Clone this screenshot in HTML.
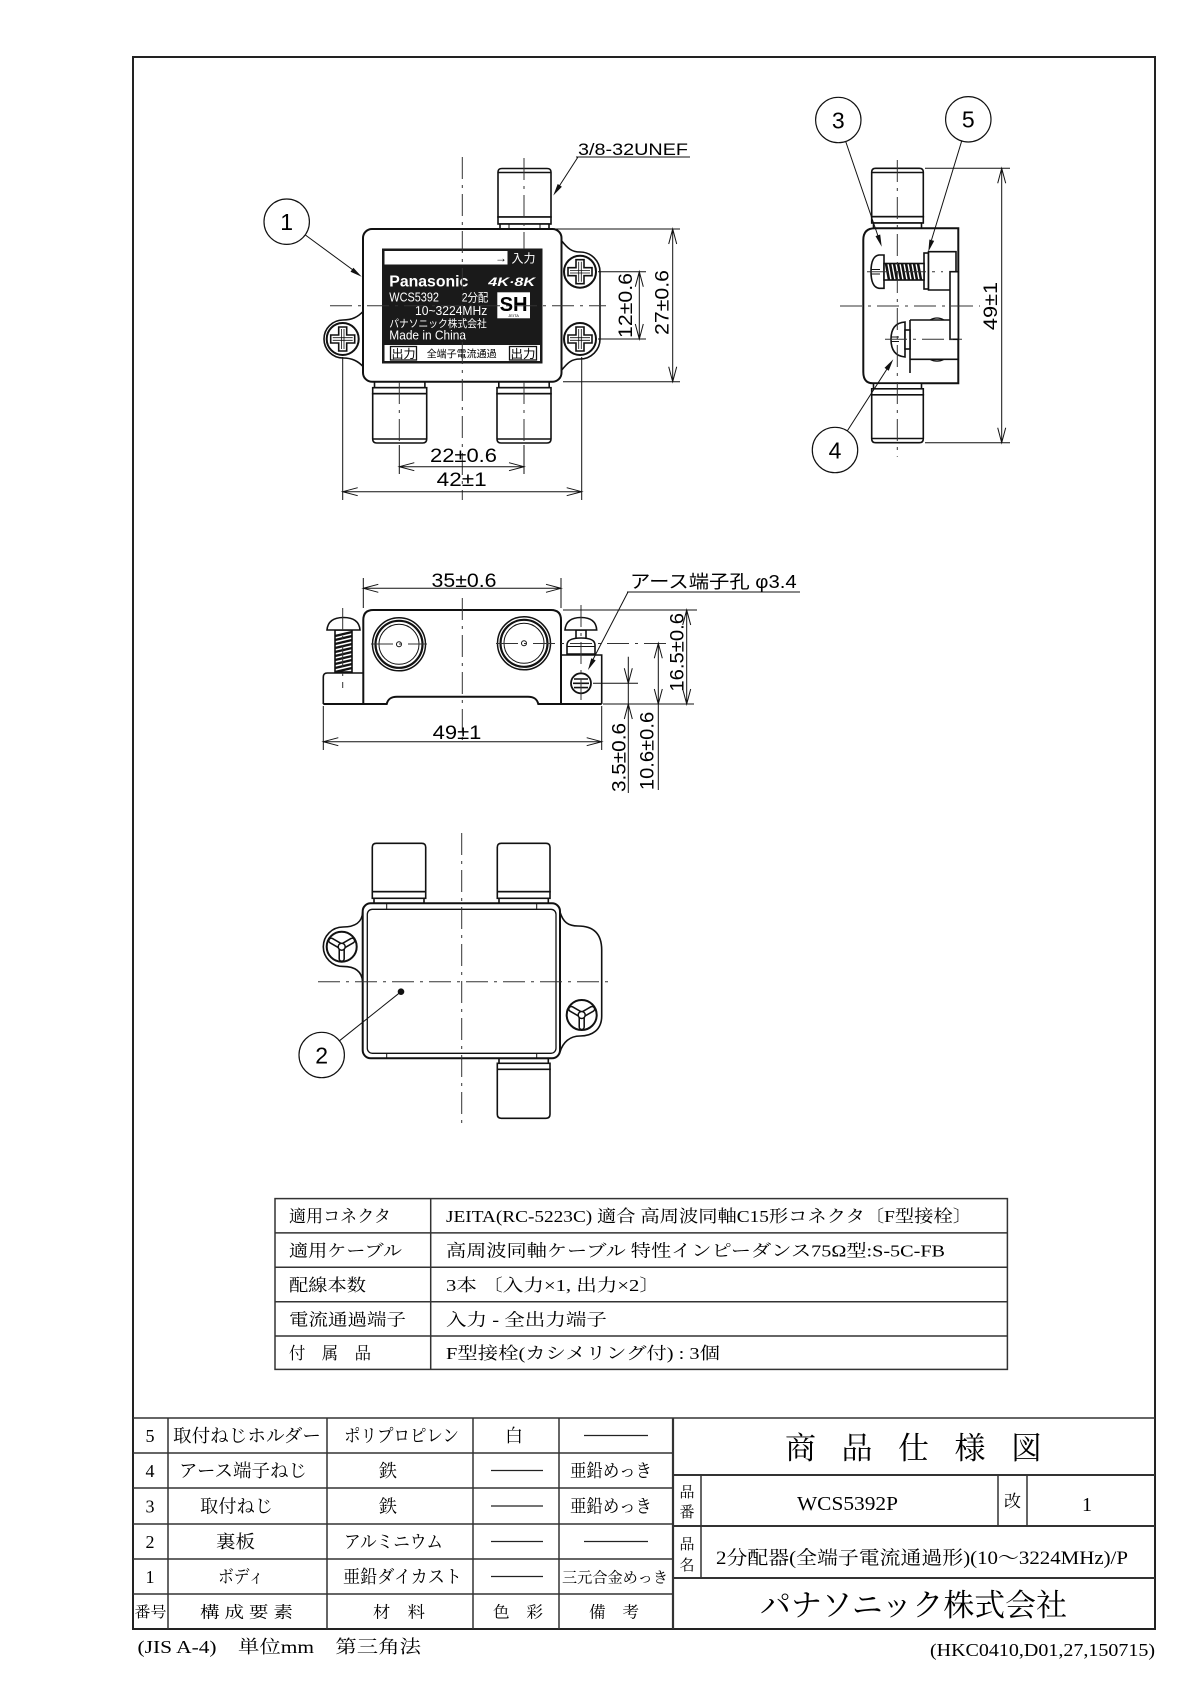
<!DOCTYPE html>
<html><head><meta charset="utf-8"><title>WCS5392P 商品仕様図</title>
<style>
html,body{margin:0;padding:0;background:#fff;}
svg{display:block;}
.s{font-family:"Liberation Sans","Noto Sans CJK JP",sans-serif;}
.m{font-family:"Liberation Serif","Noto Serif CJK SC",serif;}
.c{stroke:#333;stroke-width:1;stroke-dasharray:22 6 3 6;fill:none;}
</style></head><body>
<svg width="1190" height="1683" viewBox="0 0 1190 1683" xmlns="http://www.w3.org/2000/svg">
<defs>
<g id="ph" fill="#fff" stroke="#111">
 <circle r="16" stroke-width="2"/>
 <path d="M-4,-12 H4 V-4 H12 V4 H4 V12 H-4 V4 H-12 V-4 H-4 Z" stroke-width="1.6"/>
 <path d="M-1.3,-10 V10 M1.3,-10 V10 M-10,-1.3 H10 M-10,1.3 H10" stroke-width="0.8" fill="none"/>
</g>
<g id="tw" stroke="#111" fill="#fff">
 <circle r="15" stroke-width="2"/>
 <path d="M0,0 L-10.4,-6 M0,0 L10.4,-6 M0,0 L0,12" stroke-width="6.5" stroke-linecap="round"/>
 <path d="M0,0 L-10.4,-6 M0,0 L10.4,-6 M0,0 L0,12" stroke="#fff" stroke-width="3.4" stroke-linecap="round"/>
 <circle r="3.5" stroke-width="1.5"/>
</g>
</defs>

<!-- frame -->
<rect x="133" y="57" width="1022" height="1572" fill="none" stroke="#222" stroke-width="2"/>

<!-- ================= TOP VIEW ================= -->
<g fill="#fff" stroke="#111" stroke-width="1.6">
 <path d="M498,217 V172 Q498,168.5 502,168.5 H547 Q551,168.5 551,172 V217 Z"/>
 <path d="M498.5,172.5 H550.5" fill="none"/>
 <rect x="498" y="217" width="53" height="7"/>
 <rect x="500" y="224" width="49" height="5"/>
 <path d="M509,224 V229 M540,224 V229" fill="none" stroke-width="1"/>
 <rect x="374.5" y="381.7" width="50.4" height="6"/>
 <rect x="372.7" y="387.7" width="54" height="6"/>
 <path d="M372.7,393.7 V439 Q372.7,443 376.7,443 H422.7 Q426.7,443 426.7,439 V393.7 Z"/>
 <path d="M373,439 H426.4" fill="none"/>
 <rect x="498.8" y="381.7" width="50.4" height="6"/>
 <rect x="497" y="387.7" width="54" height="6"/>
 <path d="M497,393.7 V439 Q497,443 501,443 H547 Q551,443 551,439 V393.7 Z"/>
 <path d="M497.3,439 H550.7" fill="none"/>
 <path d="M363.5,311 C358,317 352,320 343,320 A19,19 0 1 0 343,358 C352,358 358,361 363.5,367"/>
 <path d="M561,240 C568,249 572,252 580,252 A20,20 0 0 1 600,272 L600,339 A20,20 0 0 1 580,359 C572,359 568,362 561,371"/>
 <rect x="363" y="229" width="198.5" height="152.7" rx="9" stroke-width="2"/>
</g>
<use href="#ph" x="342.7" y="339"/>
<use href="#ph" x="580" y="271.7"/>
<use href="#ph" x="580" y="339"/>

<!-- label plate -->
<rect x="382" y="248.5" width="160.5" height="115" fill="#1a1a1a"/>
<rect x="384.5" y="251" width="123" height="13.5" fill="#fff"/>
<rect x="384.5" y="345" width="155.5" height="16" fill="#fff"/>
<rect x="390.5" y="346.5" width="26" height="13.5" fill="#fff" stroke="#111" stroke-width="1.3"/>
<rect x="509.5" y="346.5" width="27" height="13.5" fill="#fff" stroke="#111" stroke-width="1.3"/>
<text class="s" x="495" y="262" font-size="12">→</text>
<text class="s" x="511.5" y="262.5" font-size="12" fill="#fff" textLength="24" lengthAdjust="spacingAndGlyphs">入力</text>
<text class="s" x="391.5" y="358" font-size="12" textLength="24" lengthAdjust="spacingAndGlyphs">出力</text>
<text class="s" x="426.7" y="357.5" font-size="10" textLength="70" lengthAdjust="spacingAndGlyphs">全端子電流通過</text>
<text class="s" x="510.5" y="358" font-size="12" textLength="25" lengthAdjust="spacingAndGlyphs">出力</text>
<text class="s" x="389.3" y="286.5" font-size="16" font-weight="bold" fill="#fff" textLength="79" lengthAdjust="spacingAndGlyphs">Panasonic</text>
<text class="s" x="488.3" y="286" font-size="12" font-weight="bold" font-style="italic" fill="#fff" textLength="46.7" lengthAdjust="spacingAndGlyphs">4K·8K</text>
<text class="s" x="389.3" y="301.7" font-size="12.5" fill="#fff" textLength="49.7" lengthAdjust="spacingAndGlyphs">WCS5392</text>
<text class="s" x="461.7" y="301.7" font-size="11.5" fill="#fff" textLength="26.6" lengthAdjust="spacingAndGlyphs">2分配</text>
<text class="s" x="415" y="315" font-size="12.5" fill="#fff" textLength="72.3" lengthAdjust="spacingAndGlyphs">10~3224MHz</text>
<text class="s" x="389.3" y="327" font-size="10.5" fill="#fff" textLength="97.4" lengthAdjust="spacingAndGlyphs">パナソニック株式会社</text>
<text class="s" x="389.3" y="339.5" font-size="12.5" fill="#fff" textLength="76.7" lengthAdjust="spacingAndGlyphs">Made in China</text>
<rect x="497.3" y="292.3" width="32.7" height="26" fill="#fff"/>
<text class="s" x="513.6" y="311" font-size="20" font-weight="bold" text-anchor="middle" textLength="28" lengthAdjust="spacingAndGlyphs">SH</text>
<text class="s" x="513.6" y="317" font-size="4" text-anchor="middle">JEITA</text>

<path class="c" d="M462.3,157 V500 M330,305.7 H606 M524,158 V249 M524,382 V443 M399.3,382 V443"/>

<g stroke="#111" stroke-width="1" fill="none">
 <path d="M399.3,445 V474 M524,445 V474 M342.7,357 V500 M581.7,357 V500"/>
 <path d="M399.3,466.7 H524 M414.3,462.7 L399.3,466.7 L414.3,470.7 M509,462.7 L524,466.7 L509,470.7"/>
 <path d="M342.7,491.7 H581.7 M357.7,487.7 L342.7,491.7 L357.7,495.7 M566.7,487.7 L581.7,491.7 L566.7,495.7"/>
 <path d="M598,271.7 H646 M598,339 H646 M639.3,271.7 V339 M635.3,286.7 L639.3,271.7 L643.3,286.7 M635.3,324 L639.3,339 L643.3,324"/>
 <path d="M553,229 H680 M563,381.7 H680 M672.7,229 V381.7 M668.7,244 L672.7,229 L676.7,244 M668.7,366.7 L672.7,381.7 L676.7,366.7"/>
 <path d="M576,157 H690 M578,157 L558,188"/>
 <path d="M305.2,234.9 L353,270"/>
</g>
<path d="M553.3,195.5 L557.7,184 L561.9,186.8 Z" fill="#111"/>
<path d="M361.7,276.7 L350.5,271.7 L353.4,267.7 Z" fill="#111"/>
<text class="s" x="463.5" y="462" font-size="19" text-anchor="middle" textLength="67" lengthAdjust="spacingAndGlyphs">22±0.6</text>
<text class="s" x="461.7" y="486" font-size="19" text-anchor="middle" textLength="50" lengthAdjust="spacingAndGlyphs">42±1</text>
<text class="s" font-size="19" text-anchor="middle" textLength="65" lengthAdjust="spacingAndGlyphs" transform="translate(632,305.5) rotate(-90)">12±0.6</text>
<text class="s" font-size="19" text-anchor="middle" textLength="65" lengthAdjust="spacingAndGlyphs" transform="translate(668.7,302.5) rotate(-90)">27±0.6</text>
<text class="s" x="578" y="155" font-size="17" textLength="110" lengthAdjust="spacingAndGlyphs">3/8-32UNEF</text>
<circle cx="286.7" cy="221.7" r="22.7" fill="none" stroke="#111" stroke-width="1.2"/>
<text class="s" x="286.7" y="230" font-size="23" text-anchor="middle">1</text>

<!-- ================= SIDE VIEW ================= -->
<g fill="#fff" stroke="#111" stroke-width="1.6">
 <path d="M871.7,216.7 V172 Q871.7,168.3 875.7,168.3 H919.3 Q923.3,168.3 923.3,172 V216.7 Z"/>
 <path d="M872,172.5 H923" fill="none"/>
 <rect x="871.7" y="216.7" width="51.6" height="6.3"/>
 <rect x="873.5" y="223" width="48" height="5.3"/>
 <path d="M875,228.3 H958.3 V383.3 H873 Q863.3,383.3 863.3,372 V240 Q863.3,228.3 875,228.3 Z" stroke-width="2"/>
 <rect x="873.5" y="383.3" width="48" height="5.5"/>
 <rect x="871.7" y="388.8" width="51.6" height="6"/>
 <path d="M871.7,394.8 V438.7 Q871.7,442.7 875.7,442.7 H919.3 Q923.3,442.7 923.3,438.7 V394.8 Z"/>
 <path d="M872,438.5 H923" fill="none"/>
 <rect x="924" y="253" width="4.5" height="36"/>
 <path d="M928.5,251.7 H956 V290 H928.5 Z"/>
 <rect x="950" y="271.7" width="8.3" height="67.6"/>
 <path d="M884,255 H879 Q871,256 871,271.7 Q871,287 879,288.3 H884 Z"/>
 <path d="M871.5,269.5 H880 M871.5,274 H880" fill="none" stroke-width="1"/>
 <rect x="884" y="263.5" width="40" height="16.5"/>
 <path d="M886,263.5 L889,280 M890,263.5 L893,280 M894,263.5 L897,280 M898,263.5 L901,280 M902,263.5 L905,280 M906,263.5 L909,280 M910,263.5 L913,280 M914,263.5 L917,280 M918,263.5 L921,280" fill="none" stroke-width="2.5"/>
 <path d="M910,320 H950 M910,320 V373 M910,359.3 H958.3" fill="none"/>
 <path d="M930,320 Q937,316 944,320 M930,359.3 Q937,363 944,359.3" fill="none" stroke-width="1.2"/>
 <path d="M905,322 Q891,323 891,339.3 Q891,356 905,357 Z"/>
 <path d="M891.5,337 H899 M891.5,341.5 H899" fill="none" stroke-width="1"/>
 <rect x="905" y="330" width="5" height="19"/>
</g>
<path class="c" d="M897.3,160 V456.7 M840,306 H980 M867,271.7 H943 M885,339.3 H962"/>
<g stroke="#111" stroke-width="1" fill="none">
 <path d="M925,168.3 H1010 M925,442.7 H1010 M1001.7,168.3 V442.7 M997.7,183.3 L1001.7,168.3 L1005.7,183.3 M997.7,427.7 L1001.7,442.7 L1005.7,427.7"/>
 <path d="M845.7,141.5 L878,236 M961.7,141 L931.5,240 M847.3,430.9 L887,369"/>
</g>
<path d="M881.7,246.7 L875.5,236.1 L880.2,234.5 Z M928.3,251.7 L929.4,239.5 L934.2,240.9 Z M893.3,359.3 L888.7,370.7 L884.5,367.9 Z" fill="#111"/>
<text class="s" font-size="19" text-anchor="middle" textLength="48.3" lengthAdjust="spacingAndGlyphs" transform="translate(997,306) rotate(-90)">49±1</text>
<circle cx="838.3" cy="120" r="22.7" fill="none" stroke="#111" stroke-width="1.2"/>
<text class="s" x="838.3" y="128.3" font-size="23" text-anchor="middle">3</text>
<circle cx="968.3" cy="119.3" r="22.7" fill="none" stroke="#111" stroke-width="1.2"/>
<text class="s" x="968.3" y="127.6" font-size="23" text-anchor="middle">5</text>
<circle cx="835" cy="450" r="22.7" fill="none" stroke="#111" stroke-width="1.2"/>
<text class="s" x="835" y="458.3" font-size="23" text-anchor="middle">4</text>

<!-- ================= FRONT VIEW ================= -->
<g fill="#fff" stroke="#111" stroke-width="1.6">
 <path d="M363.3,704 V620 Q363.3,610 373.3,610 H551 Q561,610 561,620 V704 H538.3 C537,699 534,696.7 528,696.7 H397 C391,696.7 388,699 386.7,704 Z" stroke="none"/>
 <path d="M363.3,704 V620 Q363.3,610 373.3,610 H551 Q561,610 561,620 V704" fill="none" stroke-width="2"/>
 <path d="M363.3,673 H327.3 Q323.3,673 323.3,677 V704" fill="none"/>
 <path d="M561,655 H601.7 V704" fill="none"/>
 <path d="M323.3,704 H386.7 C388,699 391,696.7 397,696.7 H528 C534,696.7 537,699 538.3,704 H601.7" fill="none" stroke-width="2"/>
 <circle cx="399" cy="644.3" r="26.5" stroke-width="1.5"/>
 <circle cx="399" cy="644.3" r="23.5" stroke-width="2.2"/>
 <circle cx="399" cy="644.3" r="20" stroke-width="1"/>
 <circle cx="399" cy="644.3" r="2.5" stroke-width="1"/>
 <circle cx="524" cy="643.3" r="26.5" stroke-width="1.5"/>
 <circle cx="524" cy="643.3" r="23.5" stroke-width="2.2"/>
 <circle cx="524" cy="643.3" r="20" stroke-width="1"/>
 <circle cx="524" cy="643.3" r="2.5" stroke-width="1"/>
 <rect x="335" y="630" width="17" height="42"/>
 <path d="M335,636 L352,632 M335,640 L352,636 M335,644 L352,640 M335,648 L352,644 M335,652 L352,648 M335,656 L352,652 M335,660 L352,656 M335,664 L352,660 M335,668 L352,664 M335,672 L352,668" fill="none" stroke-width="2.4"/>
 <path d="M327,630 Q328,617.5 343.5,617.5 Q359,617.5 360,630 Z"/>
 <rect x="576" y="630" width="10" height="9"/>
 <path d="M567,654 V645 Q567,638 581,638 Q595,638 595,645 V654 Z"/>
 <path d="M567,646.5 H595" fill="none" stroke-width="1"/>
 <path d="M565,630 Q566,617.5 581,617.5 Q596,617.5 596.7,630 Z"/>
 <circle cx="581" cy="683.3" r="10" stroke-width="1.8"/>
 <path d="M574,679 H588 M573,683.3 H589 M574,687.6 H588" fill="none" stroke-width="1.6"/>
</g>
<path class="c" d="M462.3,598 V745 M371,644 H427 M496,643.5 H666.7 M342.7,608 V688 M581,605 V700"/>
<g stroke="#111" stroke-width="1" fill="none">
 <path d="M363.3,578 V608 M561,578 V608 M363.3,588.3 H561 M378.3,584.3 L363.3,588.3 L378.3,592.3 M546,584.3 L561,588.3 L546,592.3"/>
 <path d="M323.3,706 V750 M601.7,706 V750 M323.3,741.7 H601.7 M338.3,737.7 L323.3,741.7 L338.3,745.7 M586.7,737.7 L601.7,741.7 L586.7,745.7"/>
 <path d="M563,610 H697 M603,704 H694 M686.7,610 V704 M682.7,625 L686.7,610 L690.7,625 M682.7,689 L686.7,704 L690.7,689"/>
 <path d="M658.3,643.3 V790 M654.3,658.3 L658.3,643.3 L662.3,658.3 M654.3,689 L658.3,704 L662.3,689"/>
 <path d="M593,683.3 H638 M628.3,656.7 V793 M624.3,668.3 L628.3,683.3 L632.3,668.3 M624.3,719 L628.3,704 L632.3,719"/>
 <path d="M627,592 H800 M628,592 L593,659.5"/>
</g>
<path d="M588,670 L591.3,658.2 L595.7,660.4 Z" fill="#111"/>
<text class="s" x="464" y="587" font-size="19" text-anchor="middle" textLength="65" lengthAdjust="spacingAndGlyphs">35±0.6</text>
<text class="s" x="457" y="739" font-size="19" text-anchor="middle" textLength="48.7" lengthAdjust="spacingAndGlyphs">49±1</text>
<text class="s" font-size="19" text-anchor="middle" textLength="78.7" lengthAdjust="spacingAndGlyphs" transform="translate(683.7,652.3) rotate(-90)">16.5±0.6</text>
<text class="s" font-size="19" text-anchor="middle" textLength="69" lengthAdjust="spacingAndGlyphs" transform="translate(625.3,757.5) rotate(-90)">3.5±0.6</text>
<text class="s" font-size="19" text-anchor="middle" textLength="78.3" lengthAdjust="spacingAndGlyphs" transform="translate(653.7,751) rotate(-90)">10.6±0.6</text>
<text class="s" x="630" y="588" font-size="18" textLength="166.7" lengthAdjust="spacingAndGlyphs">アース端子孔 φ3.4</text>

<!-- ================= BOTTOM VIEW ================= -->
<g fill="#fff" stroke="#111" stroke-width="1.6">
 <path d="M372.3,891.7 V847.3 Q372.3,843.3 376.3,843.3 H421.7 Q425.7,843.3 425.7,847.3 V891.7 Z"/>
 <rect x="372.3" y="891.7" width="53.4" height="6.6"/>
 <rect x="374" y="898.3" width="50" height="5"/>
 <path d="M497.3,891.7 V847.3 Q497.3,843.3 501.3,843.3 H546 Q550,843.3 550,847.3 V891.7 Z"/>
 <rect x="497.3" y="891.7" width="52.7" height="6.6"/>
 <rect x="499" y="898.3" width="49.3" height="5"/>
 <rect x="499" y="1058.3" width="49.3" height="5"/>
 <rect x="497.3" y="1063.3" width="52.7" height="6"/>
 <path d="M497.3,1069.3 V1114.3 Q497.3,1118.3 501.3,1118.3 H546 Q550,1118.3 550,1114.3 V1069.3 Z"/>
 <path d="M362.7,912 C362,922 356,927 343,927 A19.7,19.7 0 1 0 343,966.4 C356,966.4 362,972 362.7,982"/>
 <path d="M560,912 C563,922 568,926 578,926 C595,926 601.7,935 601.7,950 V1016 C601.7,1030 592,1036 580,1036 C570,1036 563,1042 560,1052"/>
 <rect x="362.7" y="903.3" width="197.3" height="155" rx="8" stroke-width="2"/>
 <rect x="367.3" y="909.3" width="188.7" height="144" rx="5" stroke-width="1.3"/>
 <path d="M386.7,903.3 V909.3 M536.7,903.3 V909.3 M386.7,1053.3 V1058.3 M536.7,1053.3 V1058.3" fill="none" stroke-width="1"/>
</g>
<use href="#tw" x="341.7" y="946.7"/>
<use href="#tw" x="581.7" y="1015"/>
<path class="c" d="M461.7,833 V1123 M318,981.7 H610"/>
<circle cx="401" cy="991.7" r="3.3" fill="#111"/>
<path d="M339.4,1040.8 L401,991.7" stroke="#111" stroke-width="1" fill="none"/>
<circle cx="321.7" cy="1055" r="22.7" fill="none" stroke="#111" stroke-width="1.2"/>
<text class="s" x="321.7" y="1063.3" font-size="23" text-anchor="middle">2</text>

<!-- ================= SPEC TABLE ================= -->
<g stroke="#333" stroke-width="1.5" fill="none">
 <rect x="275" y="1198.6" width="732.4" height="170.8"/>
 <path d="M275,1232.9 H1007.4 M275,1267.3 H1007.4 M275,1301.7 H1007.4 M275,1336 H1007.4 M430.7,1198.6 V1369.4"/>
</g>
<g class="m" font-size="17">
 <text x="289" y="1222" textLength="102" lengthAdjust="spacingAndGlyphs">適用コネクタ</text>
 <text x="446" y="1222" textLength="526" lengthAdjust="spacingAndGlyphs">JEITA(RC-5223C) 適合 高周波同軸C15形コネクタ〔F型接栓〕</text>
 <text x="289" y="1256.5" textLength="113" lengthAdjust="spacingAndGlyphs">適用ケーブル</text>
 <text x="446" y="1256.5" textLength="499" lengthAdjust="spacingAndGlyphs">高周波同軸ケーブル 特性インピーダンス75Ω型:S-5C-FB</text>
 <text x="289" y="1291" textLength="77" lengthAdjust="spacingAndGlyphs">配線本数</text>
 <text x="446" y="1291" textLength="214" lengthAdjust="spacingAndGlyphs">3本 〔入力×1, 出力×2〕</text>
 <text x="289" y="1325.5" textLength="117" lengthAdjust="spacingAndGlyphs">電流通過端子</text>
 <text x="446" y="1325.5" textLength="161" lengthAdjust="spacingAndGlyphs">入力 - 全出力端子</text>
 <text x="289" y="1359" textLength="82" lengthAdjust="spacingAndGlyphs">付　属　品</text>
 <text x="446" y="1359" textLength="274" lengthAdjust="spacingAndGlyphs">F型接栓(カシメリング付) : 3個</text>
</g>

<!-- ================= TITLE BLOCK ================= -->
<g stroke="#333" stroke-width="1.5" fill="none">
 <path d="M133,1418 H1155"/>
 <path d="M168,1418 V1629 M327,1418 V1629 M473,1418 V1629 M559,1418 V1629"/>
 <path d="M673,1418 V1629" stroke-width="2.2"/>
 <path d="M133,1453 H673 M133,1488 H673 M133,1524 H673 M133,1559 H673 M133,1594 H673"/>
 <path d="M673,1475 H1155 M673,1526 H1155 M673,1578 H1155" stroke-width="2"/>
 <path d="M701,1475 V1578 M998,1475 V1526 M1027,1475 V1526"/>
 <path d="M584,1435.5 H648 M491,1470.5 H543 M491,1506 H543 M491,1541.5 H543 M584,1541.5 H648 M491,1576.5 H543" stroke="#222" stroke-width="1.2"/>
</g>
<g class="m" font-size="18">
 <text x="150" y="1442" text-anchor="middle">5</text>
 <text x="150" y="1477" text-anchor="middle">4</text>
 <text x="150" y="1512.5" text-anchor="middle">3</text>
 <text x="150" y="1548" text-anchor="middle">2</text>
 <text x="150" y="1583" text-anchor="middle">1</text>
 <text x="173" y="1442" textLength="148" lengthAdjust="spacingAndGlyphs">取付ねじホルダー</text>
 <text x="344" y="1442" textLength="115" lengthAdjust="spacingAndGlyphs">ポリプロピレン</text>
 <text x="514" y="1442" text-anchor="middle">白</text>
 <text x="179" y="1477" textLength="128" lengthAdjust="spacingAndGlyphs">アース端子ねじ</text>
 <text x="388" y="1477" text-anchor="middle">鉄</text>
 <text x="570" y="1477" textLength="82" lengthAdjust="spacingAndGlyphs">亜鉛めっき</text>
 <text x="200" y="1512.5" textLength="73" lengthAdjust="spacingAndGlyphs">取付ねじ</text>
 <text x="388" y="1512.5" text-anchor="middle">鉄</text>
 <text x="570" y="1512.5" textLength="82" lengthAdjust="spacingAndGlyphs">亜鉛めっき</text>
 <text x="216" y="1548" textLength="39" lengthAdjust="spacingAndGlyphs">裏板</text>
 <text x="344" y="1548" textLength="99" lengthAdjust="spacingAndGlyphs">アルミニウム</text>
 <text x="218" y="1583" textLength="46" lengthAdjust="spacingAndGlyphs">ボディ</text>
 <text x="343" y="1583" textLength="119" lengthAdjust="spacingAndGlyphs">亜鉛ダイカスト</text>
 <text x="562" y="1582.5" font-size="15" textLength="106" lengthAdjust="spacingAndGlyphs">三元合金めっき</text>
 <text x="134.5" y="1617" font-size="15" textLength="32" lengthAdjust="spacingAndGlyphs">番号</text>
 <text x="200" y="1617.5" font-size="16" textLength="93" lengthAdjust="spacingAndGlyphs">構 成 要 素</text>
 <text x="373" y="1617.5" font-size="16" textLength="52" lengthAdjust="spacingAndGlyphs">材　料</text>
 <text x="493" y="1617.5" font-size="16" textLength="50" lengthAdjust="spacingAndGlyphs">色　彩</text>
 <text x="589" y="1617.5" font-size="16" textLength="50" lengthAdjust="spacingAndGlyphs">備　考</text>
</g>
<g class="m">
 <text x="800.5" y="1459" font-size="31" text-anchor="middle">商</text>
 <text x="857" y="1459" font-size="31" text-anchor="middle">品</text>
 <text x="913.5" y="1459" font-size="31" text-anchor="middle">仕</text>
 <text x="970" y="1459" font-size="31" text-anchor="middle">様</text>
 <text x="1026.5" y="1459" font-size="31" text-anchor="middle">図</text>
 <text x="687" y="1497" font-size="15" text-anchor="middle">品</text>
 <text x="687" y="1517" font-size="15" text-anchor="middle">番</text>
 <text x="687" y="1549" font-size="15" text-anchor="middle">品</text>
 <text x="687" y="1570" font-size="15" text-anchor="middle">名</text>
 <text x="847.5" y="1510" font-size="20" text-anchor="middle" textLength="101" lengthAdjust="spacingAndGlyphs">WCS5392P</text>
 <text x="1012.5" y="1507" font-size="17" text-anchor="middle">改</text>
 <text x="1087" y="1511" font-size="20" text-anchor="middle">1</text>
 <text x="716" y="1564" font-size="19" textLength="412" lengthAdjust="spacingAndGlyphs">2分配器(全端子電流通過形)(10～3224MHz)/P</text>
 <text x="760" y="1616" font-size="31" textLength="307" lengthAdjust="spacingAndGlyphs">パナソニック株式会社</text>
 <text x="137.5" y="1653" font-size="18" textLength="283.5" lengthAdjust="spacingAndGlyphs">(JIS A-4)　単位mm　第三角法</text>
 <text x="1155" y="1656" font-size="18" text-anchor="end" textLength="225" lengthAdjust="spacingAndGlyphs">(HKC0410,D01,27,150715)</text>
</g>
</svg>
</body></html>
